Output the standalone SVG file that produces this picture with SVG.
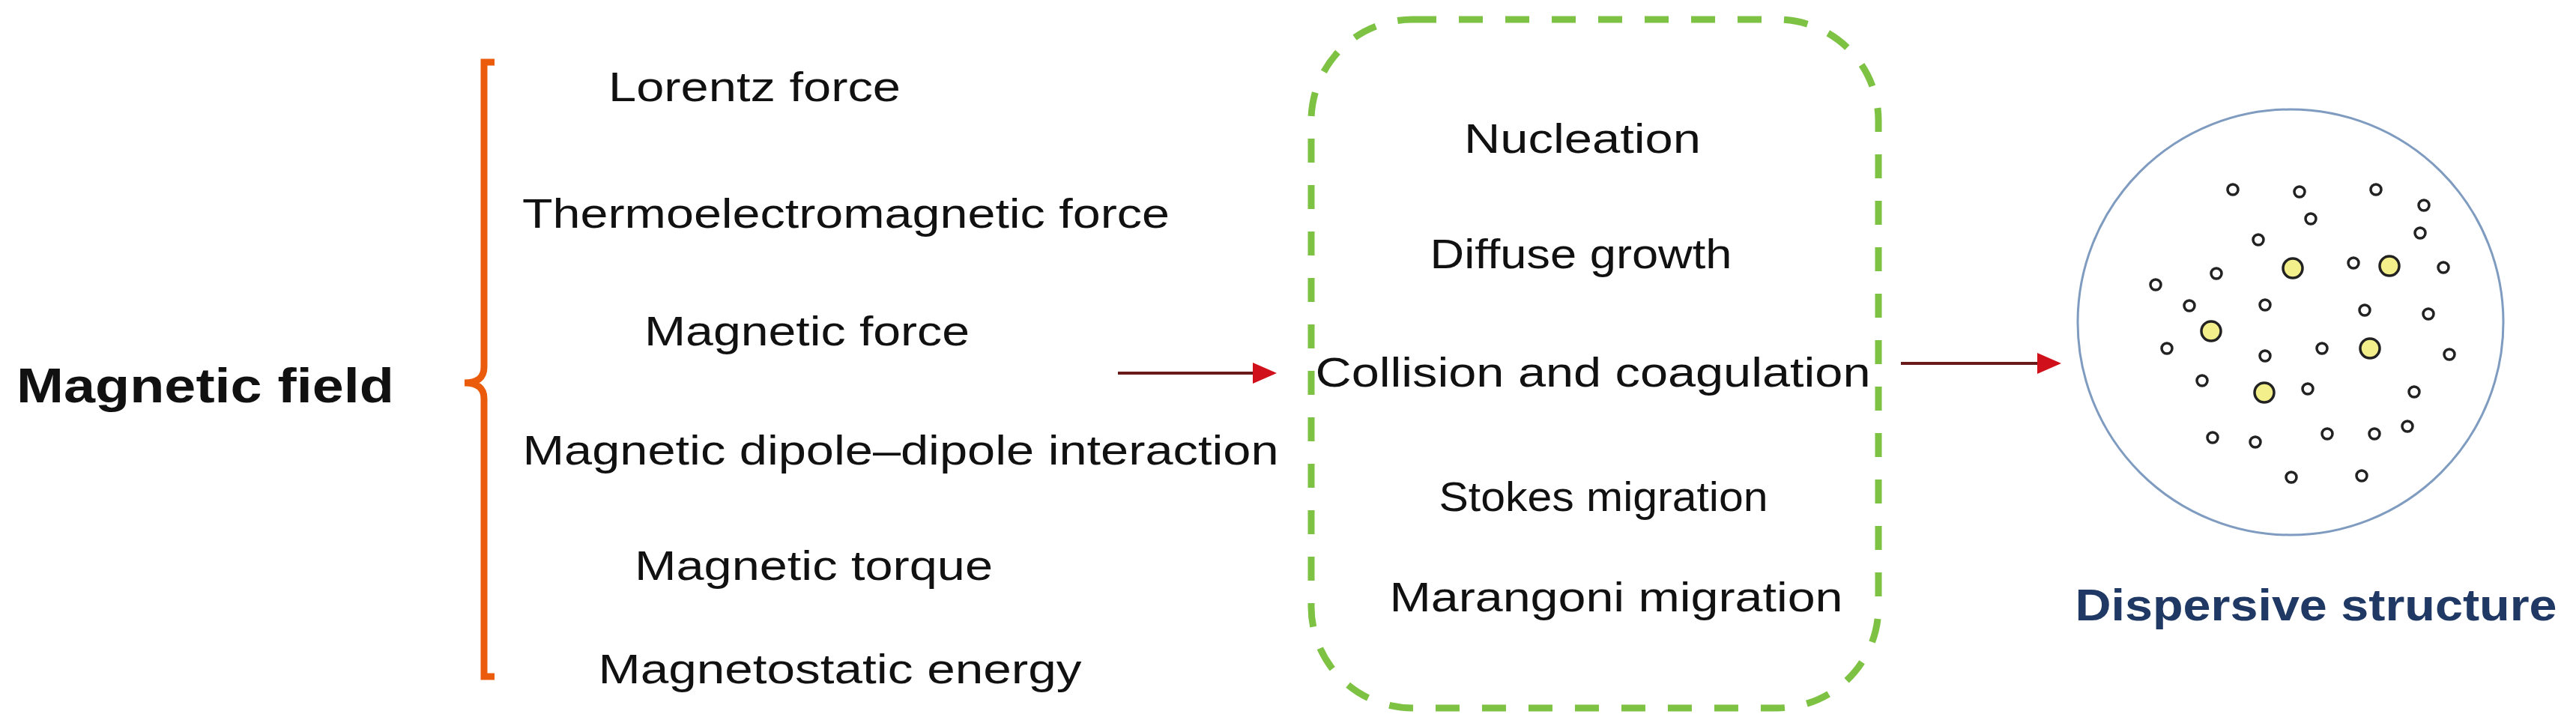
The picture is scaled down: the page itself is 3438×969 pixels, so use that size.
<svg xmlns="http://www.w3.org/2000/svg" width="3438" height="969" viewBox="0 0 3438 969">
<style>
text{font-family:"Liberation Sans",Arial,sans-serif;fill:#111}
.t{font-size:56px;text-anchor:middle}
.s{fill:#fff;stroke:#222;stroke-width:3.5}
.b{fill:#f3ef8a;stroke:#222;stroke-width:3.5}
.c{stroke:#6b1a1a;stroke-width:4;fill:none;marker-end:url(#a)}
</style>
<defs><marker id="a" markerWidth="8" markerHeight="8" refX="7" refY="4" orient="auto" markerUnits="strokeWidth"><path d="M0,0.5 L8,4 L0,7.5Z" fill="#d0101a"/></marker></defs>
<rect width="3438" height="969" fill="#fff"/>
<g id="magnetic-field"><text x="22" y="537" textLength="504" lengthAdjust="spacingAndGlyphs" style="font-size:64px;font-weight:bold">Magnetic field</text></g>
<g id="bracket"><path d="M660,83 H646 V490 Q646,511 620,511 Q646,511 646,532 V903 H660" fill="none" stroke="#ea5b0c" stroke-width="9"/></g>
<g id="forces">
<text class="t" x="1007" y="135" textLength="390" lengthAdjust="spacingAndGlyphs">Lorentz force</text>
<text class="t" x="1129" y="304" textLength="864" lengthAdjust="spacingAndGlyphs">Thermoelectromagnetic force</text>
<text class="t" x="1077" y="461" textLength="434" lengthAdjust="spacingAndGlyphs">Magnetic force</text>
<text class="t" x="1202" y="620" textLength="1009" lengthAdjust="spacingAndGlyphs">Magnetic dipole–dipole interaction</text>
<text class="t" x="1086" y="774" textLength="478" lengthAdjust="spacingAndGlyphs">Magnetic torque</text>
<text class="t" x="1121" y="912" textLength="645" lengthAdjust="spacingAndGlyphs">Magnetostatic energy</text>
</g>
<g id="processes">
<rect x="1750" y="26" width="757" height="919" rx="135" fill="none" stroke="#7dc242" stroke-width="9" stroke-dasharray="32 30"/>
<text class="t" x="2112" y="204" textLength="316" lengthAdjust="spacingAndGlyphs">Nucleation</text>
<text class="t" x="2110" y="358" textLength="403" lengthAdjust="spacingAndGlyphs">Diffuse growth</text>
<text class="t" x="2126" y="516" textLength="741" lengthAdjust="spacingAndGlyphs">Collision and coagulation</text>
<text class="t" x="2140" y="682" textLength="439" lengthAdjust="spacingAndGlyphs">Stokes migration</text>
<text class="t" x="2157" y="816" textLength="605" lengthAdjust="spacingAndGlyphs">Marangoni migration</text>
</g>
<g id="dispersive-structure">
<circle cx="3057" cy="430" r="284" fill="none" stroke="#7f9cc0" stroke-width="3"/>
<g>
<circle class="s" cx="2980" cy="253" r="7"/><circle class="s" cx="3069" cy="256" r="7"/><circle class="s" cx="3171" cy="253" r="7"/><circle class="s" cx="3235" cy="274" r="7"/><circle class="s" cx="3084" cy="292" r="7"/><circle class="s" cx="3230" cy="311" r="7"/><circle class="s" cx="3014" cy="320" r="7"/><circle class="s" cx="3141" cy="351" r="7"/><circle class="s" cx="3261" cy="357" r="7"/><circle class="s" cx="2958" cy="365" r="7"/><circle class="s" cx="2877" cy="380" r="7"/><circle class="s" cx="2922" cy="408" r="7"/><circle class="s" cx="3023" cy="407" r="7"/><circle class="s" cx="3156" cy="414" r="7"/><circle class="s" cx="3241" cy="419" r="7"/><circle class="s" cx="2892" cy="465" r="7"/><circle class="s" cx="3023" cy="475" r="7"/><circle class="s" cx="3099" cy="465" r="7"/><circle class="s" cx="3269" cy="473" r="7"/><circle class="s" cx="2939" cy="508" r="7"/><circle class="s" cx="3080" cy="519" r="7"/><circle class="s" cx="3222" cy="523" r="7"/><circle class="s" cx="2953" cy="584" r="7"/><circle class="s" cx="3010" cy="590" r="7"/><circle class="s" cx="3106" cy="579" r="7"/><circle class="s" cx="3169" cy="579" r="7"/><circle class="s" cx="3213" cy="569" r="7"/><circle class="s" cx="3058" cy="637" r="7"/><circle class="s" cx="3152" cy="635" r="7"/>
<circle class="b" cx="3060" cy="358" r="13"/><circle class="b" cx="3189" cy="355" r="13"/><circle class="b" cx="2951" cy="442" r="13"/><circle class="b" cx="3163" cy="465" r="13"/><circle class="b" cx="3022" cy="524" r="13"/>
</g>
<text x="3091" y="828" textLength="643" lengthAdjust="spacingAndGlyphs" style="font-size:60px;font-weight:bold;fill:#1f3864;text-anchor:middle">Dispersive structure</text>
</g>
<g id="connectors">
<path class="c" d="M1492,498 H1700"/>
<path class="c" d="M2537,485 H2747"/>
</g>
</svg>
